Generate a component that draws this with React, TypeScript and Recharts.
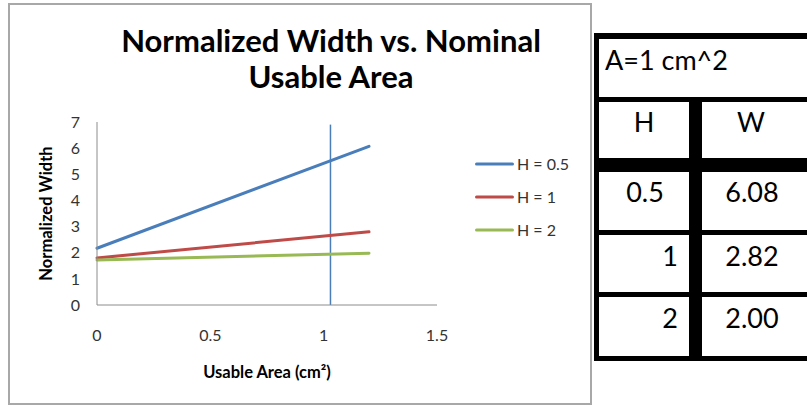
import { LineChart, Line, XAxis, YAxis, Legend, ReferenceLine } from "recharts";

// usable area (cm²) and normalized width for each height
const areaValues = [0, 1.2];
const widthH05 = [2.17, 6.07];
const widthH1 = [1.8, 2.8];
const widthH2 = [1.72, 1.98];
const xTicks = [0, 0.5, 1, 1.5];
const yTicks = [0, 1, 2, 3, 4, 5, 6, 7];
const markerArea = 1.03;

// side table, A = 1 cm^2
const tableH = ["0.5", "1", "2"];
const tableW = ["6.08", "2.82", "2.00"];

const FONT = "Lato, 'Open Sans', sans-serif";

const series = [
  { key: "h05", name: "H = 0.5", color: "#4a7ebb" },
  { key: "h1", name: "H = 1", color: "#be4b48" },
  { key: "h2", name: "H = 2", color: "#98b954" },
];

const chartData = areaValues.map((area, i) => ({
  area,
  h05: widthH05[i],
  h1: widthH1[i],
  h2: widthH2[i],
}));

function YTitle(props: any) {
  const vb = props.viewBox ?? { x: 0, y: 122, width: 97, height: 183 };
  const cx = vb.x + 46;
  const cy = vb.y + vb.height / 2;
  return (
    <text
      x={cx}
      y={cy}
      transform={`rotate(-90 ${cx} ${cy})`}
      textAnchor="middle"
      dominantBaseline="central"
      fontSize={16.5}
      fontWeight={700}
      fontFamily={FONT}
      fill="#000"
    >
      Normalized Width
    </text>
  );
}

function XTitle(props: any) {
  const vb = props.viewBox ?? { x: 97, y: 305, width: 340, height: 80 };
  return (
    <text
      x={vb.x + vb.width / 2}
      y={vb.y + 73}
      textAnchor="middle"
      fontSize={16.5}
      fontWeight={700}
      fontFamily={FONT}
      fill="#000"
    >
      Usable Area (cm²)
    </text>
  );
}

function LegendBox(props: any) {
  const items = props.payload ?? [];
  return (
    <div style={{ fontFamily: FONT, fontSize: 16, color: "#333" }}>
      {items.map((item: any) => (
        <div key={item.value} style={{ display: "flex", alignItems: "center", height: 33 }}>
          <svg width={39} height={6} style={{ marginRight: 3 }}>
            <line x1={1.5} y1={3} x2={37.5} y2={3} stroke={item.color} strokeWidth={3} strokeLinecap="round" />
          </svg>
          <span>{item.value}</span>
        </div>
      ))}
    </div>
  );
}

// black rules of the side table: [x, y, w, h]
const tableRules = [
  [594, 33, 213, 6],
  [594, 33, 5, 328],
  [594, 97, 213, 5],
  [594, 158, 213, 14],
  [594, 230, 213, 5],
  [594, 292, 213, 5],
  [594, 356, 213, 5],
  [689, 97, 13, 264],
];

const rowCenters = [192, 256, 318];

function Cell({ text, x, y, align }: { text: string; x: number; y: number; align: "left" | "center" | "right" }) {
  const w = 140;
  const left = align === "left" ? x : align === "center" ? x - w / 2 : x - w;
  return (
    <div
      style={{
        position: "absolute",
        left,
        top: y - 17,
        width: w,
        height: 34,
        lineHeight: "34px",
        textAlign: align,
        fontFamily: FONT,
        fontSize: 27,
        color: "#000",
        whiteSpace: "nowrap",
      }}
    >
      {text}
    </div>
  );
}

export default function App() {
  return (
    <div style={{ position: "absolute", left: 0, top: 0, width: 807, height: 406, background: "#fff", overflow: "hidden" }}>
      <div
        style={{
          position: "absolute",
          left: 8,
          top: 3,
          width: 584,
          height: 402,
          border: "2px solid #a8a8a8",
          boxSizing: "border-box",
        }}
      />
      <div
        style={{
          position: "absolute",
          left: 81,
          top: 22,
          width: 500,
          textAlign: "center",
          fontFamily: FONT,
          fontWeight: 700,
          fontSize: 31,
          lineHeight: "36px",
          color: "#000",
        }}
      >
        Normalized Width vs. Nominal
        <br />
        Usable Area
      </div>
      <div style={{ position: "absolute", left: 0, top: 0 }}>
        <LineChart width={600} height={406} data={chartData} margin={{ top: 122, right: 163, left: 0, bottom: 21 }}>
          <XAxis
            dataKey="area"
            type="number"
            domain={[0, 1.5]}
            ticks={xTicks}
            height={80}
            tickSize={0}
            tickMargin={25}
            tickLine={false}
            axisLine={{ stroke: "#8c8c8c", strokeWidth: 1 }}
            tick={{ fontSize: 16, fill: "#333", fontFamily: FONT }}
            label={<XTitle />}
          />
          <YAxis
            type="number"
            domain={[0, 7]}
            ticks={yTicks}
            width={97}
            tickSize={0}
            tickMargin={17}
            tickLine={false}
            axisLine={{ stroke: "#8c8c8c", strokeWidth: 1 }}
            tick={{ fontSize: 16, fill: "#333", fontFamily: FONT }}
            label={<YTitle />}
          />
          <ReferenceLine
            segment={[
              { x: markerArea, y: 6.9 },
              { x: markerArea, y: 0 },
            ]}
            stroke="#4a7ebb"
            strokeWidth={1.5}
          />
          {series.map((s) => (
            <Line
              key={s.key}
              type="linear"
              dataKey={s.key}
              name={s.name}
              stroke={s.color}
              strokeWidth={3}
              strokeLinecap="round"
              dot={false}
              activeDot={false}
              isAnimationActive={false}
            />
          ))}
          <Legend
            layout="vertical"
            align="center"
            verticalAlign="middle"
            content={<LegendBox />}
            wrapperStyle={{ left: 475, top: 147, width: 110 }}
          />
        </LineChart>
      </div>
      {tableRules.map(([x, y, w, h], i) => (
        <div key={i} style={{ position: "absolute", left: x, top: y, width: w, height: h, background: "#000" }} />
      ))}
      <Cell text="A=1 cm^2" x={605} y={60} align="left" />
      <Cell text="H" x={644} y={122} align="center" />
      <Cell text="W" x={751} y={122} align="center" />
      {tableH.map((h, i) => (
        <Cell key={h} text={h} x={i === 0 ? 645 : 678} y={rowCenters[i]} align={i === 0 ? "center" : "right"} />
      ))}
      {tableW.map((w, i) => (
        <Cell key={w} text={w} x={752} y={rowCenters[i]} align="center" />
      ))}
    </div>
  );
}
